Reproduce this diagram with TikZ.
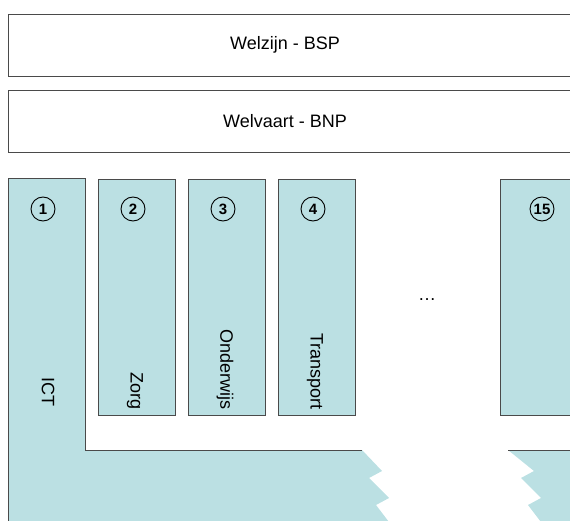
\documentclass[tikz,border=0pt]{standalone}
\usepackage{fontspec}
\setmainfont{Liberation Sans}
\definecolor{colfill}{HTML}{BBE0E3}
\definecolor{edge}{HTML}{4A4A4A}
\begin{document}
\begin{tikzpicture}[x=1pt,y=-1pt,
  topbox/.style={draw=edge,line width=1pt,fill=white,anchor=north west,inner sep=0,minimum width=575pt,minimum height=62pt},
  colbox/.style={draw=edge,line width=1pt,fill=colfill,anchor=north west,inner sep=0,minimum width=77pt,minimum height=236pt},
  num/.style={draw=black,circle,line width=0.9pt,inner sep=0,minimum size=24pt,font=\bfseries\fontsize{15}{15}\selectfont},
  txt/.style={inner sep=0,font=\fontsize{18}{21}\selectfont},
  vlabel/.style={txt,rotate=-90,anchor=east}]
\useasboundingbox (0,0) rectangle (570,521);
\clip (0,0) rectangle (570,521);
% top bars
\node[topbox] (bsp) at (8,14) {};
\node[txt] (bsptext) at (285,45) {Welzijn - BSP};
\node[topbox] (bnp) at (8,90) {};
\node[txt] (bnptext) at (285,121) {Welvaart - BNP};
% column 1 (L shape) and bottom strip
\fill[colfill] (8,179) -- (85,179) -- (85,450) -- (362,450) -- (382,471) -- (369,478) -- (389,498) -- (376,505) -- (392,526) -- (8,526) -- cycle;
\draw[edge,line width=1pt] (8,530) -- (8,179) -- (85,179) -- (85,450) -- (362,450);
\fill[colfill] (508,450) -- (575,450) -- (575,526) -- (544,526) -- (528,505) -- (541,498) -- (521,478) -- (534,471) -- cycle;
% columns
\node[colbox] (c2) at (98,179) {};
\node[colbox] (c3) at (188,179) {};
\node[colbox] (c4) at (278,179) {};
\node[colbox,minimum width=90pt] (c15) at (500,179) {};
\draw[edge,line width=1pt] (508,450) -- (575,450);
% numbers
\node[num] (n1) at (43,209) {1};
\node[num] (n2) at (133,209) {2};
\node[num] (n3) at (223,209) {3};
\node[num] (n4) at (313,209) {4};
\node[num] (n15) at (542,209) {15};
% labels
\node[vlabel] (ict) at (48,407) {ICT};
\node[vlabel] (zorg) at (135,410) {Zorg};
\node[vlabel] (ond) at (225,410) {Onderwijs};
\node[vlabel] (trans) at (315,410) {Transport};
\node[txt] (dots) at (427,300) {\dots};
\end{tikzpicture}
\end{document}
